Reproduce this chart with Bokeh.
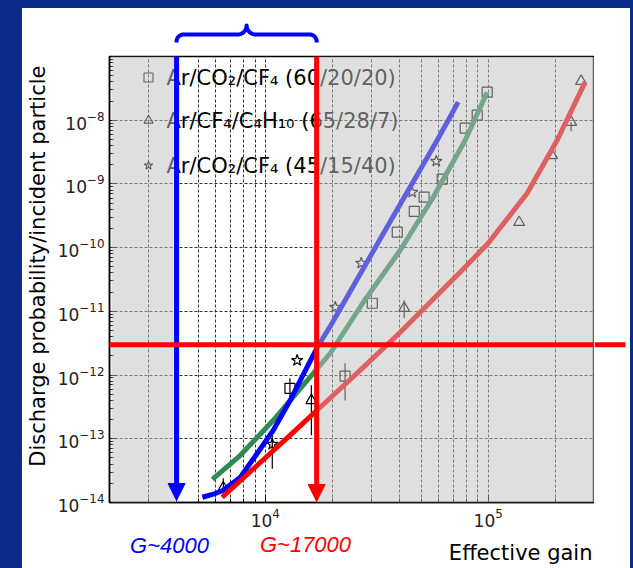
import numpy as np
from bokeh.plotting import figure
from bokeh.models import (FixedTicker, BoxAnnotation, Arrow, NormalHead, Range1d, Spacer)
from bokeh.layouts import row, column
from bokeh.embed import file_html
from bokeh.resources import INLINE
from bokeh.core.properties import value

# ---------------- data ----------------
series_names = ["Ar/CO\u2082/CF\u2084 (60/20/20)",
                "Ar/CF\u2084/C\u2084H\u2081\u2080 (65/28/7)",
                "Ar/CO\u2082/CF\u2084 (45/15/40)"]

# Ar/CO2/CF4 (60/20/20) - open squares
sq_gain = [12900, 22800, 30200, 39100, 46600, 51600, 62200, 78900, 89300, 99000]
sq_prob = [6.2e-13, 9.6e-13, 1.34e-11, 1.75e-10, 3.7e-10, 6.2e-10, 1.19e-9, 7.5e-9, 1.2e-8, 2.75e-8]
sq_err_gain = [12900, 22800]
sq_err_lo = [3.4e-13, 4.0e-13]
sq_err_hi = [8.9e-13, 1.53e-12]

# Ar/CF4/C4H10 (65/28/7) - open triangles
tr_gain = [6480, 16100, 42000, 137700, 193600, 235600, 261200]
tr_prob = [1.7e-14, 4.0e-13, 1.12e-11, 2.5e-10, 2.8e-9, 9.3e-9, 4.1e-8]
tr_err_gain = [6480, 16100, 42000, 235600]
tr_err_lo = [1.2e-14, 1.14e-13, 7.8e-12, 6.7e-9]
tr_err_hi = [2.4e-14, 6.9e-13, 1.49e-11, 9.3e-9]

# Ar/CO2/CF4 (45/15/40) - open stars
st_gain = [10750, 13900, 20600, 26950, 45600, 58500]
st_prob = [8.2e-14, 1.7e-12, 1.16e-11, 5.7e-11, 7.4e-10, 2.27e-9]
st_err_gain = [10750]
st_err_lo = [3.4e-14]
st_err_hi = [1.27e-13]

# fitted curves
blue_gain = [5220, 5850, 6480, 7730, 9210, 10860, 12940, 14360, 17110, 19570, 34520, 59060, 73380]
blue_prob = [1.21e-14, 1.35e-14, 1.56e-14, 2.49e-14, 5.92e-14, 1.36e-13, 4.02e-13, 8.28e-13,
             2.73e-12, 5.83e-12, 1.87e-10, 4.85e-9, 1.92e-8]
green_gain = [5790, 7730, 10860, 15430, 19570, 27520, 40300, 56680, 78870, 98970]
green_prob = [2.31e-14, 5.51e-14, 1.95e-13, 8.28e-13, 2.20e-12, 1.39e-11, 9.10e-11, 6.18e-10,
              4.85e-9, 2.75e-8]
red_gain = [6410, 9210, 12940, 17650, 27520, 39080, 54950, 74870, 100000, 149600, 203900, 272300]
red_prob = [1.21e-14, 3.84e-14, 1.14e-13, 3.13e-13, 1.32e-12, 4.22e-12, 1.39e-11, 4.11e-11,
            1.17e-10, 7.14e-10, 4.85e-9, 3.95e-8]

G_LOW = 4000
G_HIGH = 17000
P_LIMIT = 3e-12

X_RANGE = (2000, 300000)
Y_RANGE = (1e-14, 1e-7)
x_major = [1e4, 1e5]
x_minor = [k * 10.0 ** n for n in (3, 4, 5) for k in range(2, 10)
           if X_RANGE[0] <= k * 10.0 ** n <= X_RANGE[1]]
y_major = [10.0 ** e for e in range(-14, -7)]
y_minor = [k * 10.0 ** e for e in range(-14, -7) for k in range(2, 10)]

# ---------------- layout (page pixels) ----------------
PAGE_W, PAGE_H = 633, 568
PANEL_L, PANEL_T, PANEL_R, PANEL_B = 22, 8, 630, 568
FL, FT, FR, FB = 109, 56, 594, 502          # main frame
TOP_H = 44                                  # brace strip: page y 8..52
MAIN_TOP, MAIN_BOT = 52, 532                # main figure: page y 52..532
BOT_H = PANEL_B - MAIN_BOT                  # text strip: page y 532..568
BG = "#0b2b8a"


def gx(px):
    lo, hi = np.log10(X_RANGE)
    return 10 ** (lo + (np.asarray(px, dtype=float) - FL) / (FR - FL) * (hi - lo))


def gy(py):
    lo, hi = np.log10(Y_RANGE)
    return 10 ** (hi - (np.asarray(py, dtype=float) - FT) / (FB - FT) * (hi - lo))


def px_of(g):
    lo, hi = np.log10(X_RANGE)
    return FL + (np.log10(g) - lo) / (hi - lo) * (FR - FL)


def strip(height):
    """A blank strip sharing the main x-scale; its y units are pixels below its top."""
    f = figure(title=None, width=PANEL_R - PANEL_L, height=height, x_axis_type="log",
               x_range=X_RANGE, y_range=Range1d(height, 0),
               x_axis_location=None, y_axis_location=None,
               output_backend="svg", toolbar_location=None,
               min_border_left=FL - PANEL_L, min_border_right=PANEL_R - FR,
               min_border_top=0, min_border_bottom=0)
    f.background_fill_color = "white"
    f.border_fill_color = "white"
    f.outline_line_color = None
    f.grid.visible = False
    return f


# ---------------- main plot ----------------
fig = figure(title=None, width=FR - PANEL_L, height=MAIN_BOT - MAIN_TOP,
             x_axis_type="log", y_axis_type="log",
             x_range=X_RANGE, y_range=Y_RANGE,
             output_backend="svg", toolbar_location=None,
             min_border_left=FL - PANEL_L, min_border_right=0,
             min_border_top=FT - MAIN_TOP, min_border_bottom=MAIN_BOT - FB)
fig.background_fill_color = "white"
fig.border_fill_color = "white"
fig.outline_line_color = "black"
fig.outline_line_width = 1.5
fig.outline_line_alpha = 1.0

fig.xaxis.ticker = FixedTicker(ticks=x_major, minor_ticks=x_minor)
fig.yaxis.ticker = FixedTicker(ticks=y_major, minor_ticks=y_minor)
for ax in (fig.xaxis[0], fig.yaxis[0]):
    ax.major_tick_in = 8
    ax.major_tick_out = 0
    ax.minor_tick_in = 4
    ax.minor_tick_out = 0
    ax.axis_line_width = 1.5
    ax.axis_line_color = "black"
    ax.major_tick_line_color = "black"
    ax.minor_tick_line_color = "black"
    ax.major_label_text_font = "DejaVu Sans"
    ax.major_label_text_font_size = "17px"
    ax.major_label_text_color = "#222222"
    ax.major_label_standoff = 5

# leading no-break spaces nudge the rotated title a little toward the top, as in the original
fig.yaxis.axis_label = "\u00a0\u00a0\u00a0\u00a0Discharge probability/incident particle"
fig.yaxis.axis_label_text_font = "DejaVu Sans"
fig.yaxis.axis_label_text_font_size = "21px"
fig.yaxis.axis_label_text_font_style = "normal"
fig.yaxis.axis_label_text_color = "black"
fig.yaxis.axis_label_standoff = 5

fig.xgrid.grid_line_color = "#333333"
fig.xgrid.grid_line_dash = "3 2"
fig.xgrid.minor_grid_line_color = "#333333"
fig.xgrid.minor_grid_line_dash = "3 2"
fig.ygrid.grid_line_color = "#333333"
fig.ygrid.grid_line_dash = "3 2"

# legend drawn inside the frame
leg_rows = [77, 120, 165]
leg_markers = ["square", "triangle", "star"]
for name, mk, ry in zip(series_names, leg_markers, leg_rows):
    fig.scatter([gx(148)], [gy(ry)], marker=mk, size=9, line_color="black",
                fill_color=None, line_width=1.1)
    fig.text([gx(166)], [gy(ry)], text=[name], text_font=value("DejaVu Sans"),
             text_font_size="21px", text_baseline="middle", text_align="left",
             text_color="black")

# error bars
for eg, lo, hi in ((sq_err_gain, sq_err_lo, sq_err_hi),
                   (tr_err_gain, tr_err_lo, tr_err_hi),
                   (st_err_gain, st_err_lo, st_err_hi)):
    fig.segment(x0=eg, y0=lo, x1=eg, y1=hi, line_color="black", line_width=1.2)

# markers
fig.scatter(sq_gain, sq_prob, marker="square", size=10, line_color="black",
            fill_color=None, line_width=1.2)
fig.scatter(tr_gain, tr_prob, marker="triangle", size=11, line_color="black",
            fill_color=None, line_width=1.2)
fig.scatter(st_gain, st_prob, marker="star", size=12, line_color="black",
            fill_color=None, line_width=1.2)

# fitted curves
fig.line(green_gain, green_prob, line_color="#2e8b57", line_width=5)
fig.line(blue_gain, blue_prob, line_color="#0000ff", line_width=5)
fig.line(red_gain, red_prob, line_color="#ff0000", line_width=5)

# translucent grey shading outside the gain window
fig.add_layout(BoxAnnotation(left=gx(111), right=G_LOW, top=Y_RANGE[1], bottom=Y_RANGE[0],
                             fill_color="#c0c0c0", fill_alpha=0.5, line_alpha=0))
fig.add_layout(BoxAnnotation(left=G_HIGH, right=X_RANGE[1], top=Y_RANGE[1], bottom=Y_RANGE[0],
                             fill_color="#c0c0c0", fill_alpha=0.5, line_alpha=0))

# indicator lines
fig.add_layout(Arrow(x_start=G_LOW, y_start=Y_RANGE[1], x_end=G_LOW, y_end=gy(500),
                     line_color="#0000ff", line_width=5,
                     end=NormalHead(size=17, fill_color="#0000ff", line_color="#0000ff")))
fig.add_layout(Arrow(x_start=G_HIGH, y_start=Y_RANGE[1], x_end=G_HIGH, y_end=gy(501),
                     line_color="#ff0000", line_width=5,
                     end=NormalHead(size=17, fill_color="#ff0000", line_color="#ff0000")))
fig.add_layout(Arrow(x_start=X_RANGE[0], y_start=P_LIMIT, x_end=X_RANGE[1], y_end=P_LIMIT,
                     line_color="#ff0000", line_width=5, start=None, end=None))

# right strip: continuation of the horizontal limit line beyond the frame
fig_r = figure(title=None, width=PANEL_R - FR, height=MAIN_BOT - MAIN_TOP, y_axis_type="log",
               x_range=Range1d(0, PANEL_R - FR), y_range=fig.y_range,
               x_axis_location=None, y_axis_location=None,
               output_backend="svg", toolbar_location=None,
               min_border_left=0, min_border_right=0,
               min_border_top=FT - MAIN_TOP, min_border_bottom=MAIN_BOT - FB)
fig_r.background_fill_color = "white"
fig_r.border_fill_color = "white"
fig_r.outline_line_color = None
fig_r.grid.visible = False
fig_r.segment(x0=[0], y0=[P_LIMIT], x1=[625 - FR], y1=[P_LIMIT],
              line_color="#ff0000", line_width=5)

# ---------------- top strip: curly brace over the gain window ----------------
fig_t = strip(TOP_H)
fig_t.x_range = fig.x_range


def brace_path():
    xl, xr = px_of(G_LOW), px_of(G_HIGH)
    xm = 0.5 * (xl + xr)
    yh, yend, re, rm = 34.0, 42.0, 7.0, 9.0

    def arc(cx, cy, r, a0, a1, n=12):
        t = np.radians(np.linspace(a0, a1, n))
        return list(zip(cx + r * np.cos(t), cy + r * np.sin(t)))

    pts = [(xl, yend)] + arc(xl + re, yh + re, re, 180, 270) + \
        arc(xm - rm, yh - rm, rm, 90, 0) + arc(xm + rm, yh - rm, rm, 180, 90) + \
        arc(xr - re, yh + re, re, 270, 360) + [(xr, yend)]
    a = np.array(pts)
    return gx(a[:, 0]), a[:, 1] - PANEL_T


bx, by = brace_path()
fig_t.line(list(bx), list(by), line_color="#0000ff", line_width=4, line_join="round")

# ---------------- bottom strip: annotations and axis title ----------------
fig_b = strip(BOT_H)
fig_b.x_range = fig.x_range
fig_b.text([gx(169)], [545 - MAIN_BOT], text=[f"G~{G_LOW}"], text_align="center",
           text_baseline="middle", text_font=value("Liberation Sans"),
           text_font_style="italic", text_font_size="22px", text_color="#0000ff")
fig_b.text([gx(305)], [544 - MAIN_BOT], text=[f"G~{G_HIGH}"], text_align="center",
           text_baseline="middle", text_font=value("Liberation Sans"),
           text_font_style="italic", text_font_size="22px", text_color="#ff0000")
fig_b.text([gx(592)], [552 - MAIN_BOT], text=["Effective gain"], text_align="right",
           text_baseline="middle", text_font=value("DejaVu Sans"),
           text_font_size="21px", text_color="black")

# dark blue page border around the white panel
left_sp = Spacer(width=PANEL_L, height=PAGE_H, styles={"background-color": BG})
top_sp = Spacer(width=PANEL_R - PANEL_L, height=PANEL_T, styles={"background-color": BG})
right_sp = Spacer(width=PAGE_W - PANEL_R, height=PAGE_H, styles={"background-color": BG})
p = row(left_sp, column(top_sp, fig_t, row(fig, fig_r), fig_b), right_sp)

open("out.html", "w").write(file_html(p, INLINE))
